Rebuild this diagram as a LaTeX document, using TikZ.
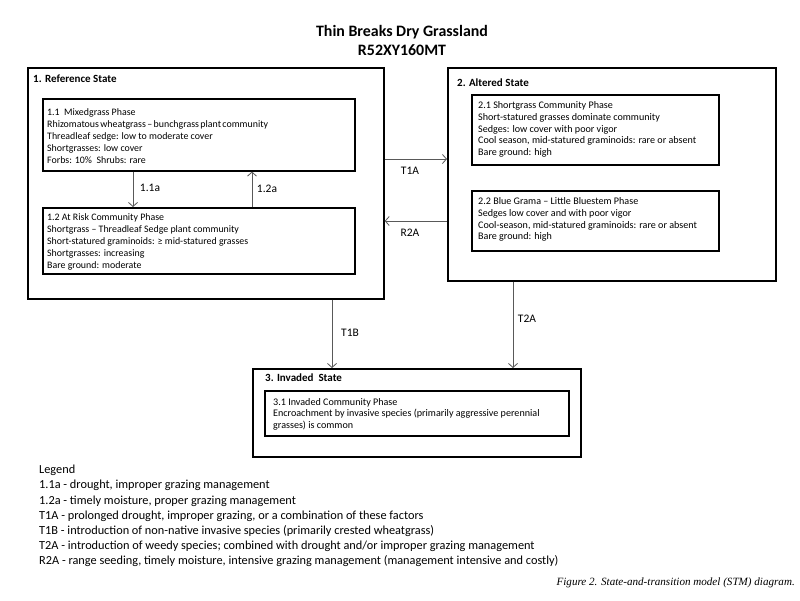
\documentclass[tikz,border=0pt]{standalone}
\usepackage{fontspec}
\setmainfont{Carlito}
\newfontfamily\capfont{Liberation Serif}
\usetikzlibrary{arrows.meta}
\begin{document}
\begin{tikzpicture}[x=1pt,y=-1pt,
  statebox/.style={draw=black,line width=1.7pt,anchor=north west,inner sep=0pt},
  phasebox/.style={draw=black,line width=1.6pt,anchor=north west,inner sep=0pt},
  phasetext/.style={anchor=north west,align=left,inner sep=0pt,font=\fontsize{9.9}{12.1}\selectfont},
  phasetextb/.style={anchor=north west,align=left,inner sep=0pt,font=\fontsize{10.1}{11.9}\selectfont},
  statetitle/.style={anchor=west,inner sep=0pt,font=\fontsize{11}{13}\selectfont\bfseries},
  lbl/.style={inner sep=0pt,font=\fontsize{11.5}{13}\selectfont},
  arr/.style={draw=black!65,line width=0.8pt,-{Straight Barb[length=4pt,width=9pt]}},
  legendtext/.style={anchor=north west,align=left,inner sep=0pt,font=\fontsize{12.3}{15.2}\selectfont}]
\useasboundingbox (0,0) rectangle (800,600);
\fill[white] (0,0) rectangle (800,600);

% title
\node[align=center,inner sep=0pt,font=\fontsize{15.9}{19}\selectfont\bfseries] (title) at (402,40) {Thin Breaks Dry Grassland\\R52XY160MT};

% state boxes
\node[statebox,minimum width=356pt,minimum height=231pt] (s1) at (27,67) {};
\node[statebox,minimum width=328pt,minimum height=213pt] (s2) at (447,67) {};
\node[statebox,minimum width=328pt,minimum height=88pt] (s3) at (252,368) {};

\node[statetitle] (s1t) at (33,79) {1. Reference State};
\node[statetitle] (s2t) at (457,83) {2. Altered State};
\node[statetitle] (s3t) at (265,378) {3. Invaded\ \ State};

% phase boxes
\node[phasebox,minimum width=312pt,minimum height=72pt] (p11) at (42,98) {};
\node[phasebox,minimum width=312pt,minimum height=66pt] (p12) at (42,207) {};
\node[phasebox,minimum width=247pt,minimum height=70pt] (p21) at (471,94) {};
\node[phasebox,minimum width=247pt,minimum height=60pt] (p22) at (471,190) {};
\node[phasebox,minimum width=304pt,minimum height=45pt] (p31) at (264,390) {};

\node[phasetext] (p11t) at (47,108.5) {1.1\ \ Mixedgrass Phase\\{\spaceskip=0.14em\relax Rhizomatous wheatgrass -- bunchgrass plant community}\\Threadleaf sedge: low to moderate cover\\Shortgrasses: low cover\\Forbs: 10\%\ \ Shrubs: rare};
\node[phasetext] (p12t) at (47,213.5) {1.2 At Risk Community Phase\\Shortgrass -- Threadleaf Sedge plant community\\Short-statured graminoids: ≥ mid-statured grasses\\Shortgrasses: increasing\\Bare ground: moderate};
\node[phasetextb] (p21t) at (478,101) {2.1 Shortgrass Community Phase\\Short-statured grasses dominate community\\Sedges: low cover with poor vigor\\Cool season, mid-statured graminoids: rare or absent\\Bare ground: high};
\node[phasetextb] (p22t) at (478,197) {2.2 Blue Grama -- Little Bluestem Phase\\Sedges low cover and with poor vigor\\Cool-season, mid-statured graminoids: rare or absent\\Bare ground: high};
\node[phasetextb,font=\fontsize{10.1}{11.5}\selectfont] (p31t) at (273,398) {3.1\ Invaded Community Phase\\Encroachment by invasive species (primarily aggressive perennial\\grasses) is common};

% connectors
\draw[arr] ([xshift=91pt]p11.south west) -- ([xshift=91pt]p12.north west);
\draw[arr] ([xshift=210pt]p12.north west) -- ([xshift=210pt]p11.south west);
\draw[arr] ([yshift=-92pt]s1.north east) -- ([yshift=-92pt]s2.north west);
\draw[arr] ([yshift=-154pt]s2.north west) -- ([yshift=-154pt]s1.north east);
\draw[arr] ([xshift=305pt]s1.south west) -- ([xshift=80pt]s3.north west);
\draw[arr] ([xshift=66pt]s2.south west) -- ([xshift=261pt]s3.north west);

\node[lbl] (l11a) at (150,188) {1.1a};
\node[lbl] (l12a) at (267,189) {1.2a};
\node[lbl] (lt1a) at (410,171) {T1A};
\node[lbl] (lr2a) at (410,233) {R2A};
\node[lbl] (lt1b) at (350,333) {T1B};
\node[lbl] (lt2a) at (527,319) {T2A};

% legend
\node[legendtext] (legend) at (39,465) {Legend\\
1.1a - drought, improper grazing management\\
1.2a - timely moisture, proper grazing management\\
T1A - prolonged drought, improper grazing, or a combination of these factors\\
T1B - introduction of non-native invasive species (primarily crested wheatgrass)\\
T2A - introduction of weedy species; combined with drought and/or improper grazing management\\
R2A - range seeding, timely moisture, intensive grazing management (management intensive and costly)};

\node[anchor=east,inner sep=0pt,font=\capfont\itshape\fontsize{11.1}{12}\selectfont] (cap) at (795,583) {Figure 2. State-and-transition model (STM) diagram.};
\end{tikzpicture}
\end{document}
